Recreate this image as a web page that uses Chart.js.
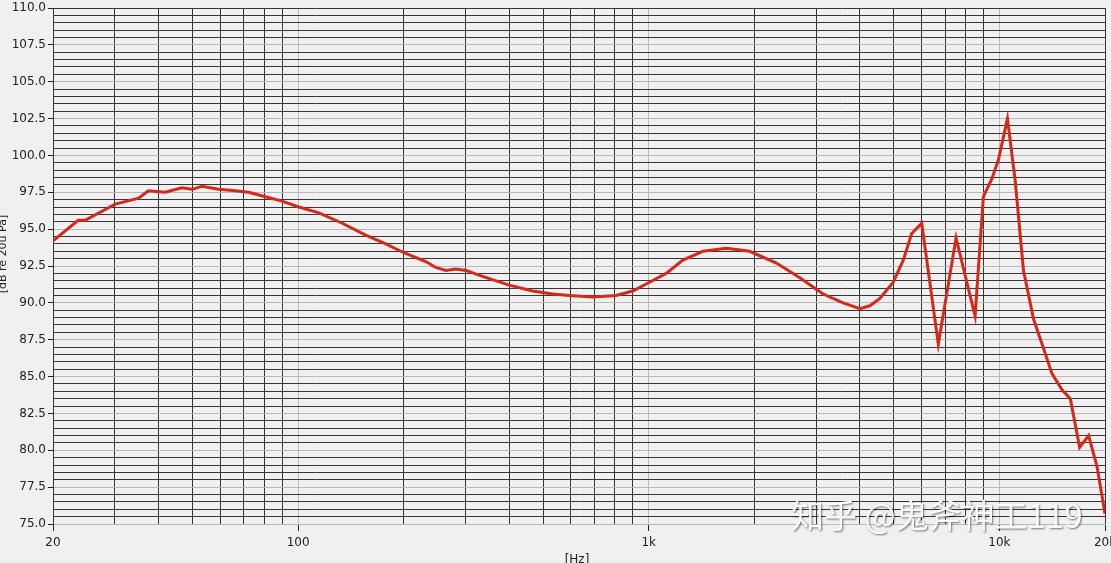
<!DOCTYPE html>
<html><head><meta charset="utf-8">
<script src="https://cdn.jsdelivr.net/npm/chart.js@4/dist/chart.umd.min.js"></script>
<style>html,body{margin:0;padding:0;background:#f0f0f0;overflow:hidden}#wrap{position:relative;width:1111px;height:563px}</style>
</head><body><div id="wrap"><canvas id="c" width="1111" height="563"></canvas></div>
<script>
const freqs = [20, 23.6, 24.7, 30.1, 35.1, 37.4, 41.8, 46.6, 49.8, 53.2, 59.3, 66.2, 72.3, 80.7, 90.0,
  100.5, 114.6, 133.6, 155.8, 177.8, 200.4, 231.2, 247, 263.8, 281.7, 300.8, 335.6, 399.9, 466.3, 531.7,
  593.4, 691.8, 807, 900, 1005, 1121, 1251, 1427, 1664, 1940, 2312, 2696, 3142, 3584, 3999,
  4272, 4562, 4979, 5318, 5620, 6003, 6694, 7521, 8522, 9000, 9512, 9934, 10541, 11089, 11711,
  12510, 13361, 14117, 15080, 15925, 16930, 17961, 18982, 20000];
const levels = [94.2, 95.6, 95.6, 96.7, 97.1, 97.6, 97.5, 97.8, 97.7, 97.9, 97.7, 97.6, 97.5, 97.2, 96.9,
  96.5, 96.1, 95.4, 94.6, 94.0, 93.4, 92.8, 92.4, 92.2, 92.3, 92.2, 91.8, 91.2, 90.8, 90.6,
  90.5, 90.4, 90.5, 90.8, 91.4, 92.0, 92.9, 93.5, 93.7, 93.5, 92.7, 91.7, 90.6, 90.0, 89.6,
  89.8, 90.3, 91.4, 92.9, 94.7, 95.4, 87.2, 94.4, 89.1, 97.2, 98.4, 99.7, 102.5, 98.3, 92.2,
  88.9, 86.9, 85.2, 84.1, 83.5, 80.2, 81.0, 78.9, 75.7];
const xGridValues = [20, 30, 40, 50, 60, 70, 80, 90, 100, 200, 300, 400, 500, 600, 700, 800, 900,
  1000, 2000, 3000, 4000, 5000, 6000, 7000, 8000, 9000, 10000, 20000];
const xMajorValues = [100, 1000, 10000];
const xLabelValues = [20, 100, 1000, 10000, 20000];
const xLabelTexts = ['20', '100', '1k', '10k', '20k'];
const yLabelValues = [75, 77.5, 80, 82.5, 85, 87.5, 90, 92.5, 95, 97.5, 100, 102.5, 105, 107.5, 110];
const yMin = 75, yMax = 110, yGridStep = 0.5;
const yTitle = '[dB re 20u Pa]';
const xTitle = '[Hz]';
const watermark = '知乎 @鬼斧神工119';

const DARK = '#353535', LIGHT = '#b8b8b8', TICK = '#222222';
const yGridValues = [];
for (let i = 0; i <= Math.round((yMax - yMin) / yGridStep); i++) yGridValues.push(yMin + i * yGridStep);

const titlesPlugin = {
  id: 'titles',
  afterDraw(chart) {
    const ctx = chart.ctx;
    ctx.save();
    ctx.fillStyle = '#222';
    ctx.font = '11px "DejaVu Sans"';
    ctx.textAlign = 'center';
    ctx.textBaseline = 'middle';
    ctx.translate(3, 254);
    ctx.rotate(-Math.PI / 2);
    ctx.fillText(yTitle, 0, 0);
    ctx.restore();
    ctx.save();
    ctx.fillStyle = '#222';
    ctx.font = '12px "DejaVu Sans"';
    ctx.textAlign = 'center';
    ctx.textBaseline = 'top';
    ctx.fillText(xTitle, 577, 554);
    ctx.restore();
    // watermark
    ctx.save();
    ctx.font = '33px "Noto Sans CJK SC"';
    ctx.textAlign = 'left';
    ctx.textBaseline = 'middle';
    ctx.shadowColor = 'rgba(0,0,0,0.55)';
    ctx.shadowOffsetX = 1;
    ctx.shadowOffsetY = 1;
    ctx.shadowBlur = 2;
    ctx.fillStyle = 'rgba(255,255,255,0.95)';
    ctx.fillText(watermark, 791, 515);
    ctx.restore();
  }
};

new Chart(document.getElementById('c'), {
  type: 'line',
  data: {
    datasets: [{
      data: freqs.map((f, i) => ({ x: f, y: levels[i] })),
      borderColor: '#d42a1c',
      borderWidth: 3,
      pointRadius: 0,
      tension: 0,
      fill: false
    }]
  },
  options: {
    responsive: false,
    animation: false,
    devicePixelRatio: 1,
    layout: { padding: { top: 8, right: 6, bottom: 0, left: 0 } },
    plugins: { legend: { display: false }, tooltip: { enabled: false } },
    scales: {
      x: {
        type: 'logarithmic',
        min: 20, max: 20000,
        afterBuildTicks(scale) { scale.ticks = xGridValues.map(v => ({ value: v })); },
        afterFit(scale) { scale.height = 39; scale.paddingLeft = 0; scale.paddingRight = 0; },
        ticks: {
          autoSkip: false, maxRotation: 0, minRotation: 0, padding: 5,
          color: '#222', font: { family: 'DejaVu Sans', size: 12 },
          callback(value) { const i = xLabelValues.indexOf(value); return i >= 0 ? xLabelTexts[i] : ''; }
        },
        grid: {
          lineWidth: 1,
          tickLength: 7,
          color(ctx) { const v = ctx.tick && ctx.tick.value; return xMajorValues.includes(v) ? LIGHT : DARK; },
          tickColor(ctx) { const v = ctx.tick && ctx.tick.value; return xLabelValues.includes(v) ? TICK : 'rgba(0,0,0,0)'; }
        },
        border: { display: true, color: LIGHT }
      },
      y: {
        type: 'linear',
        min: yMin, max: yMax,
        afterBuildTicks(scale) { scale.ticks = yGridValues.map(v => ({ value: v })); },
        afterFit(scale) { scale.width = 53; scale.paddingTop = 0; scale.paddingBottom = 0; },
        ticks: {
          autoSkip: false, padding: 2,
          color: '#222', font: { family: 'DejaVu Sans', size: 12 },
          callback(value) { return yLabelValues.includes(value) ? value.toFixed(1) : ''; }
        },
        grid: {
          lineWidth: 1,
          tickLength: 5,
          color(ctx) {
            const v = ctx.tick && ctx.tick.value;
            if (v === yMax) return DARK;
            return yLabelValues.includes(v) ? LIGHT : DARK;
          },
          tickColor(ctx) { const v = ctx.tick && ctx.tick.value; return yLabelValues.includes(v) ? TICK : 'rgba(0,0,0,0)'; }
        },
        border: { display: true, color: DARK }
      }
    }
  },
  plugins: [titlesPlugin]
});
</script></body></html>
